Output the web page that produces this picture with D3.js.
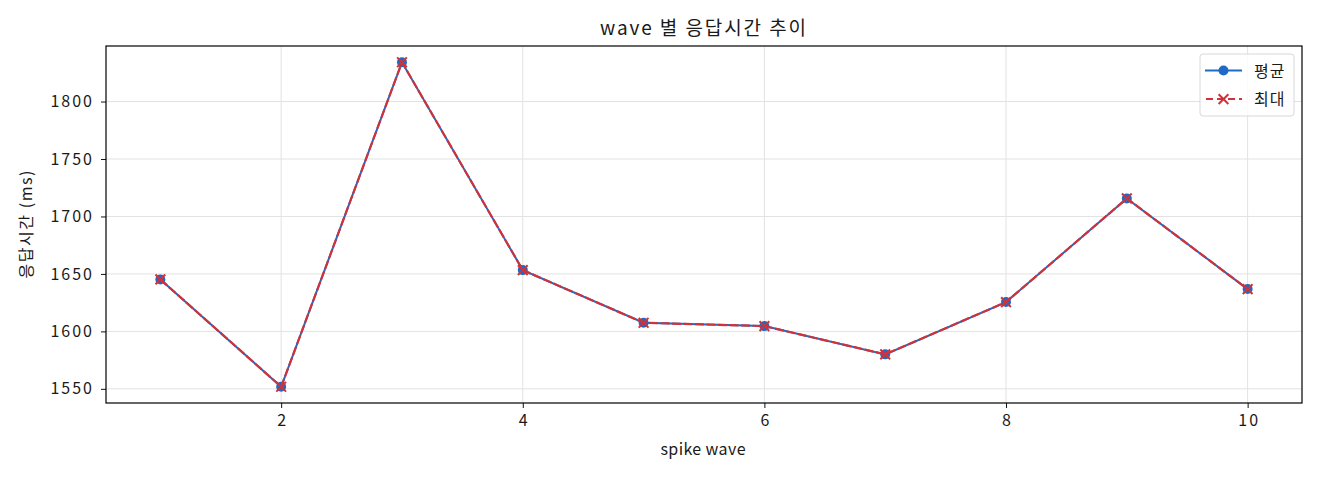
<!DOCTYPE html>
<html>
<head>
<meta charset="utf-8">
<script src="https://cdn.jsdelivr.net/npm/d3@7"></script>
<style>
  body { margin: 0; background: #fff; }
  text { font-family: "Noto Sans CJK KR", "Noto Sans", sans-serif; fill: #1a1a1a; }
</style>
</head>
<body>
<div id="canvas"></div>
<script>
// data
var waves = [1, 2, 3, 4, 5, 6, 7, 8, 9, 10]
var avgValues = [1645.2, 1551.8, 1834.2, 1653.3, 1607.5, 1604.6, 1580.0, 1625.5, 1715.7, 1636.8]
var maxValues = [1645.2, 1551.8, 1834.2, 1653.3, 1607.5, 1604.6, 1580.0, 1625.5, 1715.7, 1636.8]
var xTicks = [2, 4, 6, 8, 10]
var yTicks = [1550, 1600, 1650, 1700, 1750, 1800]
var seriesNames = ["평균", "최대"]

var W = 1320, H = 480
var margin = {top: 46, right: 18, bottom: 77, left: 106},
    width = W - margin.left - margin.right,
    height = H - margin.top - margin.bottom

var blue = "#1f6ac6", red = "#d0323a"

var svg = d3.select("#canvas").append("svg")
    .attr("width", W).attr("height", H)

var g = svg.append("g")
    .attr("transform", "translate(" + margin.left + "," + margin.top + ")")

// matplotlib-like 5% margins
var xPad = (d3.max(waves) - d3.min(waves)) * 0.05
var x = d3.scaleLinear()
    .domain([d3.min(waves) - xPad, d3.max(waves) + xPad])
    .range([0, width])
var allV = avgValues.concat(maxValues)
var yPad = (d3.max(allV) - d3.min(allV)) * 0.05
var y = d3.scaleLinear()
    .domain([d3.min(allV) - yPad, d3.max(allV) + yPad])
    .range([height, 0])

// grid
g.append("g").selectAll("line").data(xTicks).enter().append("line")
    .attr("x1", function(d) { return x(d) }).attr("x2", function(d) { return x(d) })
    .attr("y1", 0).attr("y2", height)
    .attr("stroke", "#e2e2e2").attr("stroke-width", 1)
g.append("g").selectAll("line").data(yTicks).enter().append("line")
    .attr("y1", function(d) { return y(d) }).attr("y2", function(d) { return y(d) })
    .attr("x1", 0).attr("x2", width)
    .attr("stroke", "#e2e2e2").attr("stroke-width", 1)

// axes
var xAxis = g.append("g")
    .attr("transform", "translate(0," + height + ")")
    .call(d3.axisBottom(x).tickValues(xTicks).tickFormat(d3.format("d")).tickSize(5).tickPadding(7))
var yAxis = g.append("g")
    .call(d3.axisLeft(y).tickValues(yTicks).tickFormat(d3.format("d")).tickSize(5).tickPadding(7))
;[xAxis, yAxis].forEach(function(a) {
  a.select(".domain").remove()
  a.selectAll("line").attr("stroke", "#111")
  a.selectAll("text").attr("font-size", "16px").attr("fill", "#1a1a1a")
    .attr("letter-spacing", "2px")
    .style("font-family", "'Noto Sans CJK KR', sans-serif")
})
xAxis.selectAll("text").attr("dx", "1px")

g.append("rect")
    .attr("width", width).attr("height", height)
    .attr("fill", "none").attr("stroke", "#000").attr("stroke-width", 1.2)

// lines
var line = d3.line()
    .x(function(d, i) { return x(waves[i]) })
    .y(function(d) { return y(d) })

g.append("path").datum(avgValues)
    .attr("d", line).attr("fill", "none")
    .attr("stroke", blue).attr("stroke-width", 2)
g.selectAll(".dot").data(avgValues).enter().append("circle")
    .attr("class", "dot")
    .attr("cx", function(d, i) { return x(waves[i]) })
    .attr("cy", function(d) { return y(d) })
    .attr("r", 5).attr("fill", blue)

g.append("path").datum(maxValues)
    .attr("d", line).attr("fill", "none")
    .attr("stroke", red).attr("stroke-width", 2.2)
    .attr("stroke-dasharray", "9,2.5")
var cross = d3.symbol().type(d3.symbolX).size(64)
g.selectAll(".xm").data(maxValues).enter().append("path")
    .attr("class", "xm")
    .attr("d", cross)
    .attr("transform", function(d, i) { return "translate(" + x(waves[i]) + "," + y(d) + ")" })
    .attr("fill", "none").attr("stroke", red).attr("stroke-width", 2)

// labels
svg.append("text")
    .attr("x", 703).attr("y", 35)
    .attr("text-anchor", "middle").attr("font-size", "19px")
    .attr("textLength", 206).attr("lengthAdjust", "spacing")
    .text("wave 별 응답시간 추이")
svg.append("text")
    .attr("x", 703).attr("y", 455)
    .attr("text-anchor", "middle").attr("font-size", "16px")
    .attr("textLength", 85).attr("lengthAdjust", "spacing")
    .text("spike wave")
svg.append("text")
    .attr("transform", "translate(32," + (margin.top + height / 2) + ") rotate(-90)")
    .attr("text-anchor", "middle").attr("font-size", "16px")
    .attr("textLength", 108).attr("lengthAdjust", "spacing")
    .text("응답시간 (ms)")

// legend
var lg = g.append("g").attr("transform", "translate(" + (width - 102) + ",8)")
lg.append("rect")
    .attr("width", 94).attr("height", 62).attr("rx", 3)
    .attr("fill", "#fff").attr("fill-opacity", 0.85)
    .attr("stroke", "#d8d8d8")
var colors = [blue, red]
seriesNames.forEach(function(name, i) {
  var row = lg.append("g").attr("transform", "translate(5," + (16.5 + i * 28.6) + ")")
  var l = row.append("line").attr("x1", 0).attr("x2", 37).attr("y1", 0).attr("y2", 0)
      .attr("stroke", colors[i]).attr("stroke-width", 2)
  if (i === 0) {
    row.append("circle").attr("cx", 18.5).attr("cy", 0).attr("r", 5).attr("fill", blue)
  } else {
    l.attr("stroke-dasharray", "7,4").attr("stroke-dashoffset", "-1")
    row.append("path").attr("d", cross).attr("transform", "translate(18.5,0)")
      .attr("fill", "none").attr("stroke", red).attr("stroke-width", 2)
  }
  row.append("text").attr("x", 49).attr("y", 6).attr("font-size", "16px")
    .attr("letter-spacing", "1px").text(name)
})
</script>
</body>
</html>
